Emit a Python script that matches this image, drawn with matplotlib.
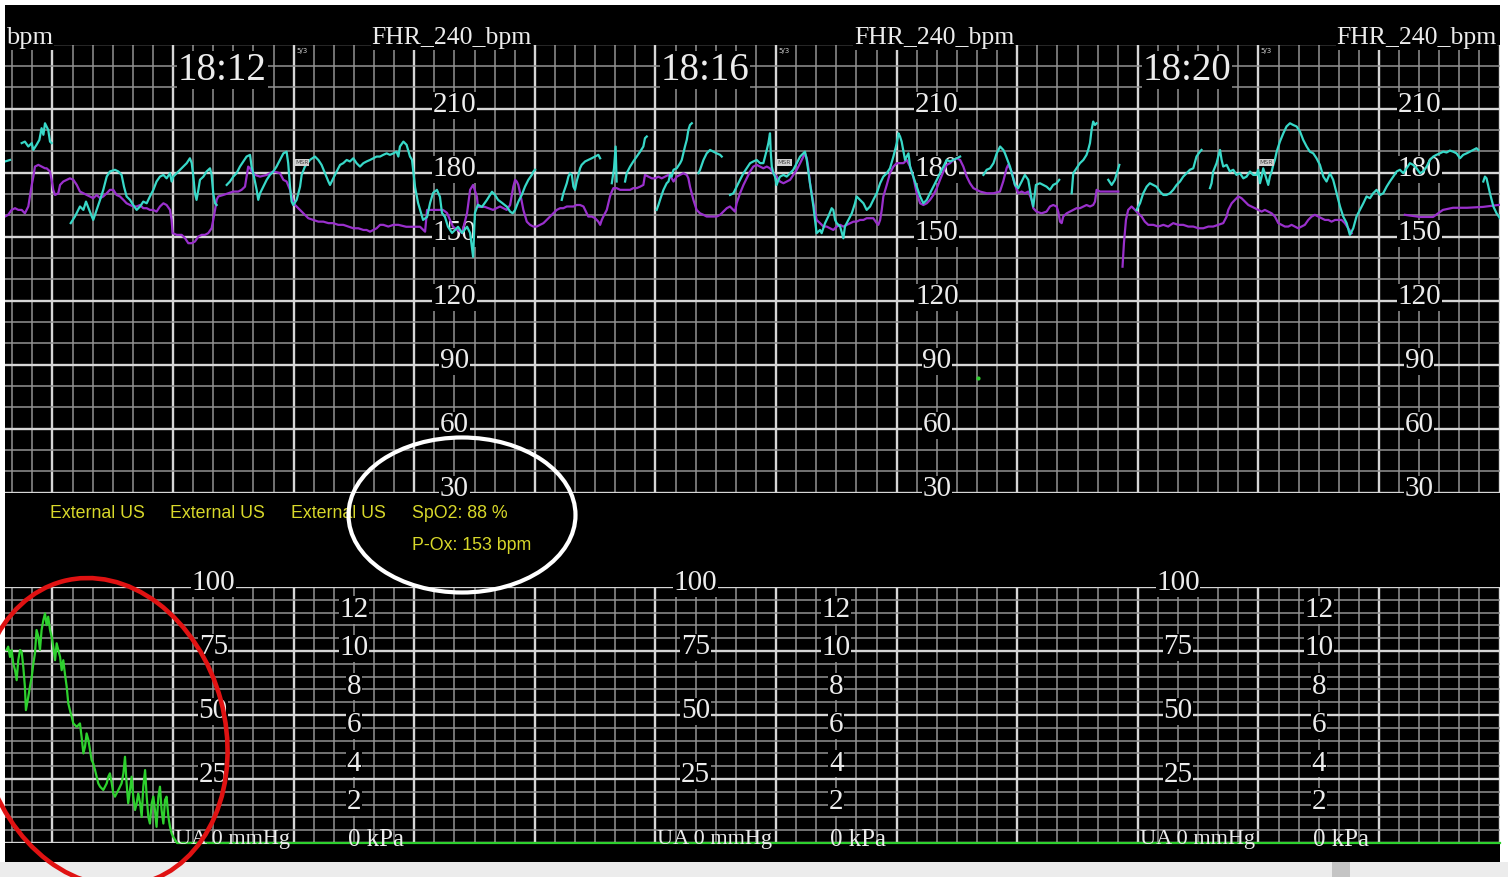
import numpy as np
import matplotlib
matplotlib.use("Agg")
import matplotlib.pyplot as plt
from matplotlib.patches import Ellipse, Rectangle

N = None
# ---------------- data (time in s relative to 18:12:00) ----------------
fhr1_t = [-83.6, -81.1, N,
          -75.3, -73.7, -72.0, -70.3, -69.5, -67.9, -66.5, -65.4, -64.5, -63.7, -62.1, -61.2, -60.4, N,
          -50.9, -48.8, -46.3, -44.6, -43.3, -41.7, -39.7, -38.0, -36.3, -34.7, -33.0, -31.4, -28.9, -27.2, -25.6, -24.4,
          -23.1, -21.4, -19.8, -18.1, -16.4, -14.8, -13.1, -11.5, -9.8, -8.2, -6.5, -4.8, -3.2, -1.5, -0.7, 0.1, 1.8, 3.5,
          5.1, 6.8, 8.4, 9.3, 10.1, 10.9, 11.7, 12.6, 13.4, 15.1, 16.7, 18.4, 19.2, 20.0, 20.9, 21.7, N,
          26.7, 28.3, 30.0, 31.6, 33.3, 35.0, 36.6, 38.3, 39.1, 39.9, 41.6, 42.4, 43.3, 44.9, 46.6, 48.2, 49.9, 51.5, 53.2,
          54.9, 56.5, 57.3, 58.2, 59.0, 59.8, 61.5, 63.2, 64.0, 65.6, 68.1, 70.6, 72.3, 73.9, 75.6, 77.3, 78.1, 79.7, 81.4,
          83.1, 84.7, 86.4, 88.0, 89.7, 91.3, 93.0, 94.7, 96.3, 98.0, 99.6, 101.3, 103.0, 104.6, 106.3, 107.9, 109.6, 111.2,
          112.1, 112.9, 114.6, 116.2, 117.9, 118.9, 120.4, 121.9, 124.4, 126.4, 127.9, 129.4, 131.3, 132.8, 133.8, 135.3,
          136.8, 138.8, 140.3, 141.8, 143.8, 146.3, 147.8, 149.3, 150.2, 151.7, 153.7, 156.2, 158.7, 160.2, 161.7, 163.7,
          166.2, 167.7, 169.0, 170.2, 171.8, 173.5, 175.1, 176.8, 178.5, 179.3, 180.1, N,
          193.4, 194.2, 195.9, 196.7, 197.5, 198.4, 199.2, 200.0, 200.8, 201.7, 202.5, 203.3, 205.0, 206.6, 208.3, 210.0,
          211.6, 212.5, N,
          218.3, 219.4, 220.2, 220.7, N,
          224.9, 225.7, 227.4, 229.0, 230.7, 232.4, 234.0, 234.8, 235.7, N,
          240.6, 241.5, 242.3, 244.0, 244.8, 245.6, 246.5, 247.3, 248.1, 249.0, 250.6, 252.3, 253.1, 253.9, 254.7, 255.6,
          256.4, 257.2, 258.1, N,
          261.4, 262.2, 263.9, 265.5, 267.2, 268.8, 270.5, 272.2, 273.0, N,
          277.1, 278.8, 280.4, 282.1, 283.8, 285.4, 287.1, 288.7, 290.4, 292.1, 293.7, 295.4, 296.2, 297.0, 297.4, 297.9,
          298.7, 299.5, 300.3, 301.2, 302.0, 303.7, 305.3, 307.0, 308.6, 310.3, 312.0, 313.6, 314.4, 315.3, 316.9, 318.6,
          320.2, 321.9, 322.7, 324.4, 326.0, 327.7, 328.5, 329.4, 330.2, 331.9, 333.5, 334.3, 336.0, 337.7, 339.3, 340.1,
          341.8, 343.5, 345.1, 346.8, 348.4, 350.1, 351.8, 353.4, 355.1, 356.7, 358.4, 360.1, 360.9, 361.7, 362.5, 364.2,
          365.0, 365.9, 366.7, 368.3, 370.0, 371.7, 373.3, 375.0, 376.6, 378.3, 380.0, 381.6, 383.3, 384.9, 386.6, 388.2,
          389.9, 391.6, N,
          403.2, 404.8, 406.5, 408.2, 409.8, 411.5, 413.1, 413.9, 416.4, 418.9, 420.5, 422.2, 423.8, 425.5, 427.2, 428.0,
          429.3, 431.3, 433.0, 434.6, 436.3, 437.9, 439.6, 440.9, N,
          447.1, 447.9, 449.5, 451.2, 452.9, 454.5, 455.3, 456.2, 457.0, 457.8, 458.7, 459.5, N,
          465.3, 467.0, 468.6, 470.3, 470.8, N,
          479.4, 481.1, 482.7, 484.4, 486.0, 487.7, 489.3, 491.0, 492.7, 494.3, 496.0, 497.6, 499.3, 501.0, 502.6, 504.3,
          505.9, 507.6, 509.2, 510.9, 511.7, N,
          515.9, 516.7, 517.5, 519.2, 520.0, 520.9, 521.7, 522.5, 524.2, 525.8, 527.5, 529.1, 530.8, 532.5, 534.1, 535.8,
          537.4, 539.1, 539.9, 540.8, 541.6, 542.4, 544.1, 544.9, 545.7, 546.6, 547.4, 548.2, 549.1, 550.7, 552.4, 554.0,
          555.7, 557.3, 559.0, 560.7, 562.3, 564.0, 565.6, 567.3, 568.9, 570.6, 572.3, 573.9, 575.6, 577.2, 578.9, 580.6,
          582.2, 583.9, 585.5, 587.2, 588.8, 590.5, 592.2, 593.8, 595.5, 597.1, 598.8, 600.5, 602.1, 603.8, 605.4, 607.1,
          608.8, 610.4, 612.1, 613.7, 615.4, 617.0, 618.7, 620.4, 622.0, 623.7, 625.3, 627.0, 628.6, 630.3, 632.0, 633.6,
          635.3, 636.9, 638.6, 640.3, 641.9, 643.6, 645.2, 646.9, 648.5, 649.4, N,
          651.9, 652.7, 653.5, 655.2, 656.9, 658.5, 660.2]
fhr1_bpm = [185.2, 185.9, N,
            193.8, 194.5, 192.2, 193.8, 190.6, 193.0, 195.3, 200.8, 197.7, 203.1, 200.0, 194.5, 193.8, N,
            156.3, 159.4, 164.1, 162.5, 166.4, 162.5, 157.8, 162.5, 167.2, 171.9, 178.1, 180.5, 181.3, 180.5, 178.9, 173.4,
            168.8, 167.2, 164.8, 162.5, 164.1, 166.4, 165.6, 168.8, 171.9, 175.8, 178.1, 178.9, 177.3, 179.7, 175.8, 178.1,
            179.7, 181.3, 182.8, 184.4, 186.7, 184.4, 178.1, 170.3, 167.2, 171.9, 176.6, 178.1, 180.5, 182.0, 178.9, 170.3,
            165.6, 164.8, N,
            174.2, 175.8, 178.1, 179.7, 182.8, 185.2, 187.5, 188.3, 182.8, 179.7, 171.9, 167.2, 170.3, 173.4, 176.6, 178.9,
            180.5, 182.8, 185.9, 189.0, 189.8, 184.4, 173.4, 166.4, 164.8, 167.2, 173.4, 178.9, 182.8, 185.9, 187.5, 185.9,
            183.6, 179.7, 175.8, 174.2, 177.3, 180.5, 183.6, 184.4, 185.9, 185.2, 186.7, 184.4, 182.8, 184.4, 185.2, 185.9,
            186.7, 187.5, 187.5, 188.3, 189.0, 188.3, 189.0, 189.8, 187.5, 192.2, 194.5, 193.0, 187.5, 186.0, 173.3, 165.8,
            157.8, 159.2, 165.8, 170.5, 171.9, 168.6, 161.1, 159.2, 154.6, 151.7, 153.1, 154.6, 151.7, 154.6, 151.7, 140.5,
            161.1, 164.9, 163.9, 167.2, 171.0, 169.5, 167.2, 165.8, 163.9, 161.7, 160.9, 162.5, 166.4, 169.5, 173.4, 176.6,
            178.9, 180.5, 181.3, N,
            167.2, 170.3, 175.0, 178.1, 179.7, 178.9, 173.4, 171.9, 175.8, 178.9, 182.0, 183.6, 185.2, 185.9, 186.7, 187.5,
            188.3, 186.7, N,
            175.0, 182.0, 192.2, 175.8, N,
            175.8, 179.7, 182.8, 185.2, 187.5, 189.8, 192.2, 196.1, 196.9, N,
            162.5, 164.8, 167.2, 171.9, 173.4, 175.0, 175.8, 178.9, 178.1, 181.3, 182.0, 184.4, 185.9, 189.0, 192.2, 195.3,
            200.0, 202.3, 203.1, N,
            179.7, 181.3, 185.9, 189.0, 190.6, 189.8, 189.0, 188.3, 187.5, N,
            169.5, 170.3, 173.4, 176.6, 179.7, 182.0, 184.4, 185.2, 185.9, 184.4, 184.4, 190.6, 193.8, 198.4, 189.0, 182.8,
            179.7, 178.1, 174.2, 176.6, 178.1, 178.9, 178.1, 179.7, 181.3, 184.4, 187.5, 189.0, 189.8, 185.9, 175.0, 164.1,
            151.6, 153.1, 151.6, 156.3, 159.4, 163.3, 162.5, 157.8, 156.3, 154.7, 149.2, 154.7, 157.8, 160.9, 165.6, 168.8,
            167.2, 165.6, 162.5, 164.1, 167.2, 170.3, 175.0, 178.1, 179.7, 182.0, 187.5, 193.8, 198.4, 196.9, 194.5, 185.9,
            187.5, 189.0, 182.8, 178.1, 173.4, 168.8, 165.6, 167.2, 170.3, 173.4, 176.6, 179.7, 182.8, 185.9, 185.2, 185.9,
            186.7, 187.5, N,
            178.9, 181.3, 182.0, 184.4, 189.0, 192.2, 190.6, 189.0, 182.8, 174.2, 172.7, 175.8, 178.9, 176.6, 167.2, 164.1,
            174.2, 175.0, 174.2, 173.4, 171.9, 174.2, 175.0, 176.6, N,
            170.3, 179.7, 182.0, 184.4, 185.9, 188.3, 190.6, 193.8, 200.0, 203.9, 202.3, 203.1, N,
            176.6, 174.2, 176.6, 182.0, 183.6, N,
            162.5, 165.6, 170.3, 173.4, 175.0, 174.2, 173.4, 171.1, 169.5, 169.5, 170.3, 171.9, 174.2, 175.8, 178.1, 179.7,
            181.3, 182.0, 187.5, 189.8, 190.6, N,
            172.7, 175.0, 180.5, 184.4, 187.5, 190.6, 185.9, 182.8, 183.6, 180.5, 181.3, 178.9, 179.7, 177.3, 178.1, 180.5,
            178.9, 178.9, 181.3, 175.0, 178.1, 182.0, 176.6, 174.2, 178.1, 180.5, 183.6, 185.9, 189.8, 194.5, 198.4, 201.6,
            203.1, 202.3, 201.6, 199.2, 195.3, 192.2, 189.8, 189.0, 186.7, 183.6, 178.1, 175.8, 179.7, 176.6, 170.3, 164.1,
            159.4, 156.3, 150.8, 153.9, 159.4, 162.5, 165.6, 168.8, 168.0, 170.3, 171.9, 169.5, 170.3, 173.4, 175.8, 178.1,
            180.5, 181.3, 179.7, 182.0, 184.4, 183.6, 182.0, 179.7, 180.5, 182.8, 185.9, 187.5, 188.3, 189.0, 189.8, 189.4,
            190.3, 189.8, 189.0, 186.7, 188.3, 189.0, 189.8, 190.6, 191.4, 190.6, N,
            175.8, 178.1, 177.3, 170.3, 164.1, 160.9, 158.6]

fhr2_t = [-83.6, -82.0, -80.3, -78.6, -77.0, -75.3, -73.7, -72.0, -71.2, -70.3, -69.5, -68.7, -67.0, -65.4, -63.7, -62.9,
          -61.2, -60.4, -59.6, -58.7, -57.1, -56.2, -54.6, -52.9, -51.3, -49.6, -47.9, -46.3, -44.6, -43.0, -41.3, -39.7,
          -38.0, -36.3, -34.7, -33.0, -31.4, -29.7, -28.1, -26.4, -24.7, -23.1, -21.4, -19.8, -18.1, -16.4, -14.8, -13.1,
          -11.5, -9.8, -8.2, -6.5, -4.8, -3.2, -1.5, -0.7, -0.2, 1.8, 4.3, 6.0, 7.6, 9.3, 10.9, 12.6, 14.2, 15.9, 17.5,
          19.2, 20.0, 20.9, 21.7, 22.5, 25.0, 27.5, 30.0, 32.5, 34.1, 35.8, 36.6, 37.4, 38.3, 39.1, 40.8, 43.3, 46.6, 49.9,
          53.2, 54.9, 56.5, 58.2, 59.5, 60.7, 62.3, 64.0, 65.6, 67.3, 69.8, 72.3, 74.8, 77.3, 79.7, 82.2, 84.7, 87.2, 89.7,
          92.2, 94.7, 96.3, 98.0, 99.6, 101.3, 103.0, 104.6, 107.1, 109.6, 112.1, 116.0, 122.9, 125.4, 126.4, 129.4, 134.3,
          136.3, 139.3, 143.8, 146.3, 147.8, 149.3, 151.2, 151.7, 155.2, 159.2, 162.7, 164.4, 166.0, 167.7, 169.3, 170.2,
          171.0, 171.8, 172.7, 174.3, 176.0, 177.6, 179.3, 180.9, 182.6, 184.3, 185.9, 187.6, 189.2, 190.9, 192.6, 194.2,
          195.9, 197.5, 199.2, 200.8, 202.5, 204.2, 205.0, 206.6, 208.3, 210.0, 211.6, 212.5, 213.3, 214.1, 215.8, 216.6,
          217.4, 218.3, 219.1, 220.7, 222.4, 224.1, 225.7, 227.4, 229.0, 230.7, 232.4, 234.0, 234.8, 236.5, 238.2, 239.8,
          241.5, 243.1, 244.8, 246.5, 248.1, 249.0, 250.6, 252.3, 253.9, 255.6, 256.4, 257.2, 258.9, 260.5, 262.2, 263.9,
          265.5, 267.2, 268.8, 270.5, 272.2, 273.8, 275.5, 277.1, 278.8, 279.6, 280.4, 282.1, 283.8, 285.4, 287.1, 288.7,
          290.4, 292.1, 293.7, 295.4, 297.0, 298.7, 300.3, 302.0, 303.7, 305.3, 307.0, 308.6, 310.3, 312.0, 313.6, 314.4,
          315.3, 316.1, 316.9, 318.6, 320.2, 321.9, 323.6, 325.2, 326.9, 328.5, 330.2, 331.9, 333.5, 335.2, 336.8, 338.5,
          340.1, 341.8, 343.5, 345.1, 346.8, 348.4, 350.1, 350.9, 351.8, 352.6, 353.4, 355.1, 356.7, 358.4, 360.1, 361.7,
          363.4, 365.0, 366.7, 368.3, 370.0, 371.7, 373.3, 375.0, 376.6, 378.3, 380.0, 381.6, 383.3, 384.9, 386.6, 388.2,
          389.9, 391.6, 393.2, 394.9, 396.5, 398.2, 401.5, 404.8, 408.2, 411.4, 413.1, 414.7, 415.5, 417.2, 418.9, 420.5,
          422.2, 423.8, 425.5, 427.2, 428.0, 429.6, 432.1, 434.6, 436.3, 437.9, 439.6, 440.4, 441.3, 442.1, 442.9, 444.6,
          446.2, 447.9, 449.5, 451.2, 452.9, 454.5, 456.2, 457.8, 458.7, 459.5, 461.2, 464.5, 467.8, 470.3, N,
          472.4, 473.1, 474.1, 475.2, 476.9, 478.6, 480.2, 481.9, 483.5, 485.2, 487.7, 490.2, 492.7, 495.1, 497.6, 500.1,
          502.6, 505.1, 507.6, 510.1, 512.6, 515.1, 517.5, 520.0, 522.5, 524.2, 525.0, 526.7, 528.3, 530.0, 531.6, 533.3,
          535.0, 536.6, 538.3, 539.9, 541.6, 543.2, 544.9, 546.6, 548.2, 549.9, 551.5, 553.2, 554.9, 556.5, 558.2, 559.8,
          561.5, 563.1, 564.8, 566.5, 568.1, 569.8, 571.4, 573.1, 574.8, 576.4, 578.1, 579.7, 581.4, 583.0, 584.7, 586.4, N,
          612.9, 616.0, 620.4, 626.9, 631.8, 636.8, 643.8, 651.7, 660.2]
fhr2_bpm = [159.4, 160.2, 162.5, 163.3, 162.5, 162.5, 160.9, 164.1, 168.8, 174.2, 178.1, 182.8, 183.6, 182.8, 182.0, 182.0,
            180.5, 176.6, 171.9, 169.5, 170.3, 174.2, 175.8, 176.6, 177.3, 176.6, 174.2, 171.1, 170.3, 169.5, 168.8, 168.0,
            169.5, 168.0, 168.8, 170.3, 171.9, 171.9, 169.5, 168.8, 167.2, 165.6, 164.8, 164.1, 164.1, 164.8, 163.3, 163.3,
            162.5, 162.5, 161.7, 164.1, 165.6, 164.8, 162.5, 157.8, 151.6, 150.8, 150.8, 149.2, 146.9, 146.9, 147.7, 150.0,
            150.8, 150.8, 151.6, 153.9, 157.8, 162.5, 167.2, 168.8, 169.5, 170.3, 171.1, 171.1, 171.9, 173.4, 178.1, 182.8,
            182.0, 180.5, 178.9, 178.1, 178.9, 180.5, 179.7, 176.6, 175.8, 171.9, 167.2, 164.8, 163.3, 161.7, 160.2, 158.6,
            157.8, 157.0, 157.0, 156.3, 156.3, 155.5, 155.5, 154.7, 153.9, 153.9, 153.1, 153.1, 152.3, 153.1, 153.9, 155.5,
            155.5, 154.7, 155.5, 155.5, 154.6, 154.6, 152.3, 162.5, 162.5, 162.5, 161.1, 154.6, 151.7, 161.1, 171.9, 174.2,
            168.6, 163.9, 163.9, 162.5, 164.1, 163.3, 162.5, 164.8, 173.4, 176.6, 175.8, 174.2, 170.3, 162.5, 157.0, 155.5,
            154.7, 154.7, 155.5, 156.3, 157.8, 159.4, 160.9, 162.5, 163.3, 163.3, 164.1, 164.1, 164.1, 164.8, 164.8, 164.1,
            162.5, 159.4, 159.4, 158.6, 157.0, 155.5, 157.8, 159.4, 162.5, 165.6, 168.8, 171.1, 172.7, 172.7, 171.9, 171.9,
            171.9, 171.9, 172.7, 172.7, 173.4, 174.2, 178.9, 178.1, 177.3, 177.3, 178.1, 177.3, 178.1, 178.9, 177.3, 175.8,
            178.1, 178.9, 179.7, 178.9, 177.3, 173.4, 167.2, 162.5, 160.9, 160.2, 159.4, 159.4, 159.4, 159.4, 160.2, 161.7,
            163.3, 164.1, 162.5, 161.7, 165.6, 170.3, 174.2, 177.3, 180.5, 182.8, 183.6, 182.8, 182.0, 182.8, 182.0, 179.7,
            178.1, 175.8, 175.0, 175.8, 176.6, 178.9, 181.3, 184.4, 187.5, 189.0, 186.7, 182.0, 175.0, 165.6, 157.8, 156.3,
            154.7, 154.7, 153.9, 153.1, 154.7, 155.5, 154.7, 155.5, 156.3, 157.0, 157.0, 157.8, 157.8, 158.6, 158.6, 158.6,
            156.3, 155.5, 157.8, 162.5, 168.8, 174.2, 179.7, 182.8, 184.4, 184.4, 184.4, 185.9, 182.8, 178.1, 170.3, 165.6,
            164.8, 165.6, 167.2, 169.5, 172.7, 176.6, 180.5, 183.6, 184.4, 185.9, 186.7, 185.9, 182.8, 178.1, 175.0, 172.7,
            171.1, 170.3, 170.3, 171.1, 176.0, 182.0, 183.6, 180.5, 174.2, 170.3, 171.1, 170.3, 171.1, 167.2, 163.3, 161.7,
            160.9, 161.7, 164.1, 164.8, 164.1, 161.7, 157.0, 156.3, 159.4, 160.9, 161.7, 162.5, 163.3, 163.3, 164.1, 164.8,
            164.1, 164.8, 166.4, 171.9, 171.1, 171.1, 171.1, 171.1, N,
            135.9, 146.9, 157.8, 162.5, 164.1, 162.5, 160.9, 159.4, 157.0, 155.5, 155.5, 154.7, 155.5, 154.7, 156.3, 155.5,
            155.5, 154.7, 154.7, 153.9, 153.9, 154.7, 154.7, 155.5, 156.3, 159.4, 162.5, 165.6, 167.2, 168.8, 168.0, 166.4,
            164.8, 164.1, 163.3, 162.5, 161.7, 162.5, 161.7, 160.9, 159.4, 156.3, 155.5, 154.7, 154.7, 155.5, 154.7, 153.9,
            154.7, 155.5, 157.8, 159.4, 160.2, 159.4, 158.6, 157.8, 157.8, 157.0, 157.8, 157.8, 157.8, 156.3, 153.9, 151.6, N,
            160.2, 159.8, 159.2, 159.2, 162.5, 163.5, 163.5, 163.9, 164.9]

ua_t = [-82.8, -82.0, -81.1, -80.3, -79.5, -78.6, -77.8, -77.0, -76.1, -75.3, -74.5, -73.7, -73.2, -72.0, -71.2, -70.3,
        -69.5, -68.7, -67.9, -67.0, -66.2, -65.4, -64.5, -63.7, -62.9, -62.1, -61.2, -60.4, -59.6, -58.7, -57.9, -57.1,
        -56.2, -55.4, -54.6, -53.8, -52.9, -52.1, -51.3, -50.4, -49.6, -47.9, -46.3, -45.5, -44.6, -43.8, -43.0, -42.1,
        -41.3, -40.5, -39.7, -38.8, -38.0, -37.2, -36.3, -34.7, -33.0, -32.2, -31.4, -30.5, -29.7, -28.9, -27.2, -25.6,
        -24.7, -23.9, -23.1, -22.3, -21.4, -20.6, -19.8, -18.9, -18.1, -17.3, -16.4, -15.6, -14.8, -13.9, -13.1, -12.3,
        -11.5, -10.6, -9.8, -9.0, -8.2, -7.3, -6.5, -5.7, -4.8, -4.0, -3.2, -2.3, -1.5, -0.7, 0.1, 2.0, 660.2]
ua_mmhg = [75.4, 76.7, 72.7, 75.4, 70.1, 67.5, 63.6, 71.4, 75.4, 74.7, 68.8, 61.0, 51.9, 57.1, 61.0, 64.9,
           70.1, 74.1, 83.2, 80.6, 75.4, 83.2, 87.1, 89.7, 85.1, 88.4, 83.2, 80.6, 76.7, 71.4, 78.0, 75.4,
           72.7, 67.5, 71.4, 66.2, 61.0, 54.5, 51.9, 49.3, 46.7, 45.4, 46.7, 41.5, 35.0, 37.6, 42.8, 40.2,
           36.3, 32.4, 31.1, 28.5, 25.9, 23.3, 22.0, 20.7, 23.3, 25.9, 27.2, 23.3, 19.4, 18.1, 20.7, 23.3,
           27.2, 33.7, 23.3, 15.5, 20.7, 25.9, 18.1, 12.9, 15.5, 19.4, 15.5, 10.2, 22.0, 28.5, 18.1, 10.2,
           7.6, 15.5, 18.1, 12.9, 6.3, 18.1, 22.0, 12.9, 7.6, 16.8, 18.1, 10.2, 6.3, 3.7, 2.4, 0.0, 0.0]

spo2_dot_t, spo2_dot_bpm = [400.5], [83.8]

fhr_ticks = [210, 180, 150, 120, 90, 60, 30]
ua_ticks = [100, 75, 50, 25]
kpa_ticks = [12, 10, 8, 6, 4, 2]
time_labels = ["18:12", "18:16", "18:20"]
time_marks = [0, 240, 480]          # s, start of each 4-minute block
status_lines = ["External US", "External US", "External US"]
spo2_text = ["SpO2: 88 %", "P-Ox: 153 bpm"]

# ---------------- styling ----------------
W, H = 1508, 877
fig = plt.figure(figsize=(W / 100, H / 100), dpi=100)
fig.patch.set_facecolor("white")
fig.add_artist(Rectangle((5 / W, 1 - 862 / H), 1495 / W, 857 / H, transform=fig.transFigure,
                         facecolor="black", edgecolor="none", zorder=0))
fig.add_artist(Rectangle((0, 0), 1, 1 - 862 / H, transform=fig.transFigure,
                         facecolor="#ececec", edgecolor="none", zorder=0))
fig.add_artist(Rectangle((1332 / W, 0), 18 / W, 1 - 862 / H, transform=fig.transFigure,
                         facecolor="#c4c4c4", edgecolor="none", zorder=0))

XMIN, XMAX = -83.6, 660.2
MAJ_C, MIN_C = "#d6d6d6", "#939393"
LBL_C = "#ececec"
SERIF = "Liberation Serif"
CYAN, PURPLE, GREEN = "#38d8c8", "#9a30cc", "#2ed12e"
lbl_bbox = dict(facecolor="black", edgecolor="none", pad=0.5)

ax1 = fig.add_axes([5 / W, 1 - 492.7 / H, 1495 / W, 448.2 / H])
ax2 = fig.add_axes([5 / W, 1 - 843 / H, 1495 / W, 256 / H])
for ax in (ax1, ax2):
    ax.set_facecolor("none")
    ax.set_xlim(XMIN, XMAX)
    ax.set_xticks(np.arange(-60, 661, 60))
    ax.set_xticks(np.arange(-80, 661, 10), minor=True)
    ax.set_axisbelow(True)
    ax.grid(which="minor", color=MIN_C, lw=1.1)
    ax.grid(which="major", color=MAJ_C, lw=1.7)
    ax.tick_params(which="both", length=0, labelbottom=False, labelleft=False)
    for s in ax.spines.values():
        s.set_visible(False)

ax1.set_ylim(30, 240)
ax1.set_yticks(np.arange(30, 241, 30))
ax1.set_yticks(np.arange(30, 241, 10), minor=True)
ax2.set_ylim(0, 100)
ax2.set_yticks(np.arange(0, 101, 25))
ax2.set_yticks(np.arange(0, 101, 5), minor=True)

# traces
ax1.plot(np.array(fhr2_t, dtype=float), np.array(fhr2_bpm, dtype=float), color=PURPLE, lw=1.6, zorder=4)
ax1.plot(np.array(fhr1_t, dtype=float), np.array(fhr1_bpm, dtype=float), color=CYAN, lw=1.6, zorder=5)
ax1.plot(spo2_dot_t, spo2_dot_bpm, "o", color=GREEN, ms=2, zorder=5)
ax2.plot(ua_t, ua_mmhg, color=GREEN, lw=1.6, zorder=5, clip_on=False)

# upper panel texts
ax1.text(XMIN + 0.3, 243, "bpm", ha="left", va="center", color=LBL_C, family=SERIF, fontsize=19,
         bbox=lbl_bbox, zorder=3, clip_on=False)
for tm, lab in zip(time_marks, time_labels):
    ax1.text(tm + 178.5, 243, "FHR_240_bpm", ha="right", va="center", color=LBL_C, family=SERIF,
             fontsize=18.5, bbox=lbl_bbox, zorder=3, clip_on=False)
    ax1.text(tm + 2.5, 228, lab, ha="left", va="center", color=LBL_C, family=SERIF, fontsize=28,
             bbox=lbl_bbox, zorder=3)
    ax1.text(tm + 64, 237, "5/3", ha="center", va="center", color="#cfcfcf", family="DejaVu Sans",
             fontsize=5, zorder=3)
    ax1.text(tm + 64, 184.6, "MSR", ha="center", va="center", color="#444444", family="DejaVu Sans",
             fontsize=4.5, bbox=dict(facecolor="#d0d0d0", edgecolor="none", pad=0.6), zorder=6)
    for v in fhr_ticks:
        ax1.text(tm + 140, v + 1.5, str(v), ha="center", va="center", color=LBL_C, family=SERIF,
                 fontsize=21, bbox=lbl_bbox, zorder=3, clip_on=False)
    # lower panel texts
    for v in ua_ticks:
        ax2.text(tm + 20, v + 1.5, str(v), ha="center", va="center", color=LBL_C, family=SERIF,
                 fontsize=21, bbox=lbl_bbox, zorder=3, clip_on=False)
    for v in kpa_ticks:
        ax2.text(tm + 90, v * 7.5 + 1, str(v), ha="center", va="center", color=LBL_C, family=SERIF,
                 fontsize=21, bbox=lbl_bbox, zorder=3)
    ax2.text(tm + 1.0, 1.2, "UA 0 mmHg", ha="left", va="center", color=LBL_C, family=SERIF,
             fontsize=16, zorder=6, clip_on=False)
    ax2.text(tm + 87, 1.2, "0 kPa", ha="left", va="center", color=LBL_C, family=SERIF,
             fontsize=18, zorder=6, clip_on=False)

# status texts (yellow)
YEL = "#d8d82a"
SANS = "Liberation Sans"
for i, s in enumerate(status_lines):
    fig.text((50 + 120.5 * i) / W, 1 - 513 / H, s, ha="left", va="center", color=YEL,
             family=SANS, fontsize=12.8, zorder=7)
for j, s in enumerate(spo2_text):
    fig.text(412 / W, 1 - (513 + 33 * j) / H, s, ha="left", va="center", color=YEL,
             family=SANS, fontsize=12.8, zorder=7)

# annotation ellipses
ov = fig.add_axes([0, 0, 1, 1], zorder=10)
ov.set_xlim(0, W)
ov.set_ylim(0, H)
ov.axis("off")
ov.patch.set_alpha(0)
ov.add_patch(Ellipse((103, H - 732), 244, 312, angle=15, fill=False, edgecolor="#e01212", lw=3.3))
ov.add_patch(Ellipse((462, H - 515), 227, 155, angle=0, fill=False, edgecolor="white", lw=3.0))

fig.savefig("out.png", dpi=100, facecolor=fig.get_facecolor())
